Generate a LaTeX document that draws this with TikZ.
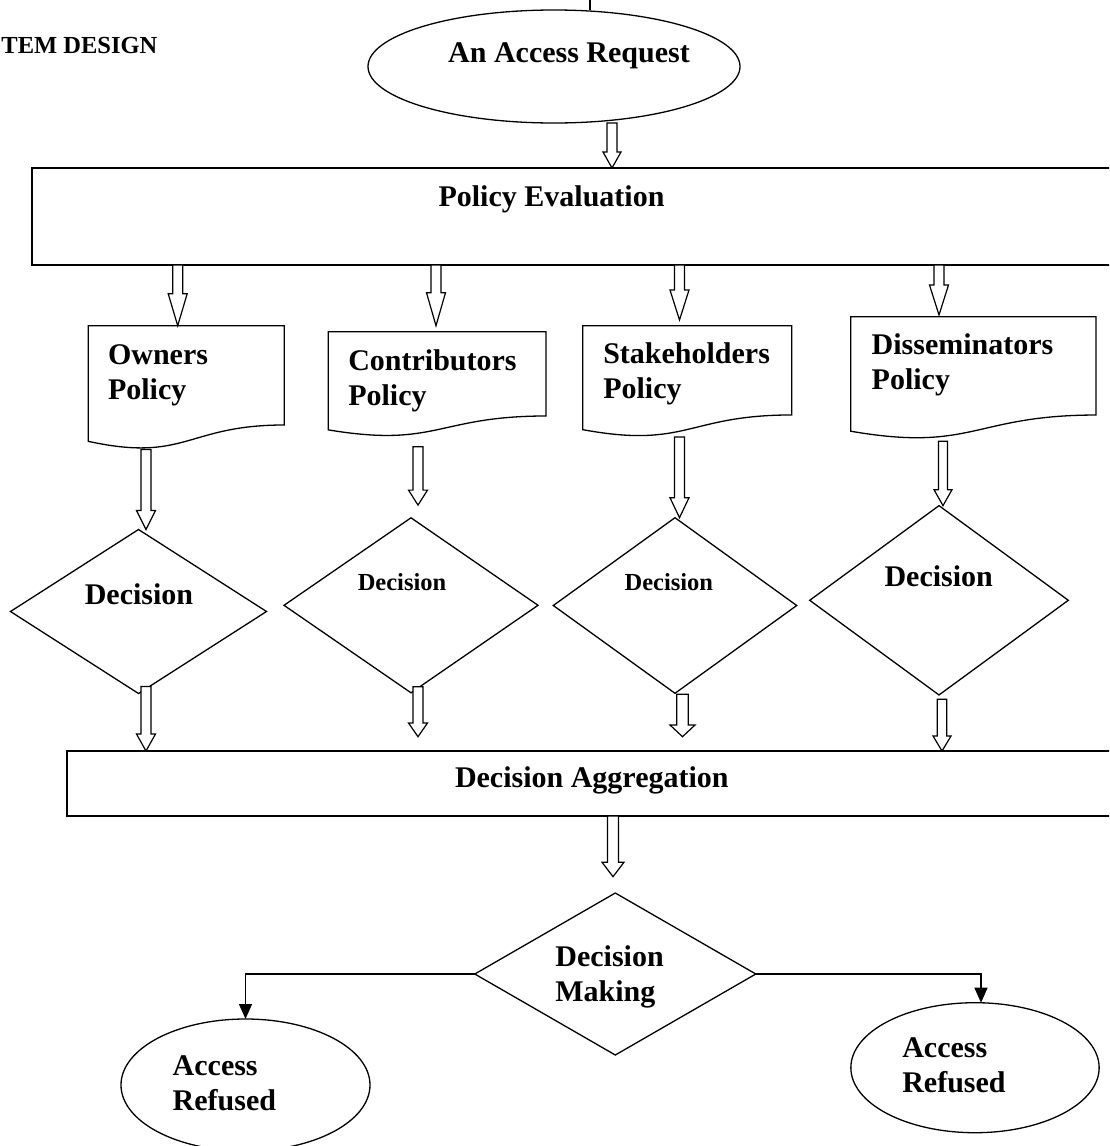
\documentclass[tikz,border=0pt]{standalone}
\usepackage{fontspec}
\setmainfont{Liberation Serif}
\usetikzlibrary{calc,shapes.geometric,arrows.meta}
\tikzset{
  shapeline/.style={draw=black, line width=1.3pt},
  boxnode/.style={shapeline, rectangle, inner sep=0pt, outer sep=0pt},
  docframe/.style={rectangle, inner sep=0pt, outer sep=0pt, draw=none},
  dia/.style={shapeline, diamond, inner sep=0pt, outer sep=0pt},
  ell/.style={shapeline, ellipse, inner sep=0pt, outer sep=0pt},
  hollow/.style={draw=black, line width=1.2pt, fill=white, line join=miter},
  flowarrow/.style={draw=black, line width=1.3pt, -{Triangle[length=15pt,width=13pt]}},
  lbl/.style={font=\fontsize{30}{35}\selectfont\bfseries, inner sep=0pt, outer sep=0pt},
  lblsmall/.style={font=\fontsize{24.5}{29}\selectfont\bfseries, inner sep=0pt, outer sep=0pt},
}
\newcommand\twol[2]{\begin{tabular}[t]{@{}l@{}}#1\\#2\end{tabular}}
% hollow block arrow: x, start, tip, head length, shaft half width, head half width
\newcommand\harrow[6]{%
  \draw[hollow] let \p1=(#2), \p2=(#3) in
    (#1pt-#5pt,\y1) -- (#1pt-#5pt,\y2+#4pt) -- (#1pt-#6pt,\y2+#4pt) -- (#1pt,\y2)
    -- (#1pt+#6pt,\y2+#4pt) -- (#1pt+#5pt,\y2+#4pt) -- (#1pt+#5pt,\y1) -- cycle;}
% document shape: name, left, top, width, height
\newcommand\docshape[5]{%
  \node[docframe, minimum width=#4pt, minimum height=#5pt, anchor=north west] (#1) at (#2,#3) {};
  \draw[shapeline] (#1.north west) -- (#1.north east)
    -- ($(#1.north east)!0.802!(#1.south east)$)
    .. controls ($(#1.north)!0.802!(#1.south)$) and ($(#1.north)!1.107!(#1.south)$)
    .. ($(#1.north west)!0.934!(#1.south west)$) -- cycle;}
\begin{document}
\begin{tikzpicture}[x=1pt, y=-1pt]
\useasboundingbox (0,0) rectangle (1109,1146);
\clip (0,0) rectangle (1109,1146);

% heading fragment
\node[lblsmall, anchor=base west] (head) at (1.5,53) {TEM DESIGN};

% request
\node[ell, minimum width=372pt, minimum height=113pt] (ar) at (554,66.5) {};
\node[lbl, anchor=base] (art) at (569,62.5) {An Access Request};
\coordinate (tick) at (590,0);
\draw[shapeline] (tick) -- (tick |- ar.north);

% policy evaluation
\node[boxnode, minimum width=1083pt, minimum height=97pt] (pe) at (573.5,216.5) {};
\node[lbl, anchor=base] (pet) at (551.5,206.5) {Policy Evaluation};

% documents
\docshape{od}{88.3}{325.7}{196}{123.8}
\docshape{cd}{328.3}{331.7}{217.7}{105.1}
\docshape{sd}{582.7}{325.7}{209}{111.3}
\docshape{dd}{850.7}{316.7}{245.3}{122.6}
\node[lbl, anchor=base west] (odt) at (108,364) {\twol{Owners}{Policy}};
\node[lbl, anchor=base west] (cdt) at (348.3,370) {\twol{Contributors}{Policy}};
\node[lbl, anchor=base west] (sdt) at (603.3,363.3) {\twol{Stakeholders}{Policy}};
\node[lbl, anchor=base west] (ddt) at (871.7,354.3) {\twol{Disseminators}{Policy}};

% decisions
\node[dia, minimum width=256pt, minimum height=164pt] (odec) at (138.5,611.5) {};
\node[dia, minimum width=254pt, minimum height=175pt] (cdec) at (411,605.3) {};
\node[dia, minimum width=243.4pt, minimum height=175.6pt] (sdec) at (675,605.5) {};
\node[dia, minimum width=258.6pt, minimum height=189.3pt] (ddec) at (939,600.3) {};
\node[lbl, anchor=base] (odect) at (139,604) {Decision};
\node[lblsmall, anchor=base] (cdect) at (402,590.7) {Decision};
\node[lblsmall, anchor=base] (sdect) at (668.8,590.7) {Decision};
\node[lbl, anchor=base] (ddect) at (938.7,586) {Decision};

% aggregation
\node[boxnode, minimum width=1048pt, minimum height=65pt] (agg) at (591,783.5) {};
\node[lbl, anchor=base west] (aggt) at (455,787.5) {Decision Aggregation};

% decision making
\node[dia, minimum width=281pt, minimum height=162pt] (dmk) at (615.3,974) {};
\node[lbl, anchor=base west] (dmkt) at (555.4,966) {\twol{Decision}{Making}};

% outcomes
\node[ell, minimum width=249pt, minimum height=132pt] (lar) at (245.5,1085) {};
\node[lbl, anchor=base west] (lart) at (172.7,1075) {\twol{Access}{Refused}};
\node[ell, minimum width=248.3pt, minimum height=130pt] (rar) at (975,1067.7) {};
\node[lbl, anchor=base west] (rart) at (902.3,1057.7) {\twol{Access}{Refused}};

% hollow arrows
\harrow{612}{ar.south}{pe.north}{16}{5}{9}
\harrow{177.7}{pe.south}{od.north}{32}{5}{9.5}
\harrow{436}{pe.south}{$(cd.north)+(0,-6)$}{33}{5}{9.5}
\harrow{679.5}{pe.south}{$(sd.north)+(0,-5.7)$}{30}{5}{9.5}
\harrow{939}{pe.south}{$(dd.north)+(0,-1.7)$}{30}{5}{9.5}
\harrow{146}{od.south}{odec.north}{19}{5}{9.5}
\harrow{418}{$(cd.south)+(0,10)$}{$(cdec.north)+(0,-12.7)$}{15}{5}{9.5}
\harrow{679.5}{sd.south}{sdec.north}{20}{5}{9.5}
\harrow{943}{$(dd.south)+(0,2)$}{ddec.north}{16}{4.5}{9}
\harrow{146}{$(odec.south)+(0,-7)$}{agg.north}{17}{5}{9.5}
\harrow{418}{$(cdec.south)+(0,-6)$}{$(agg.north)+(0,-14.3)$}{13.7}{5}{9.5}
\harrow{682.5}{$(sdec.south)+(0,1)$}{$(agg.north)+(0,-14.3)$}{11.7}{5.8}{12.5}
\harrow{942}{$(ddec.south)+(0,4.3)$}{agg.north}{15}{4.7}{9}
\harrow{613}{agg.south}{$(dmk.north)+(0,-16.3)$}{14.5}{5.5}{11}

% outcome connectors
\draw[flowarrow] (dmk.west) -| (lar.north);
\draw[flowarrow] (dmk.east) -| ($(rar.north)+(6,0)$);
\end{tikzpicture}
\end{document}
